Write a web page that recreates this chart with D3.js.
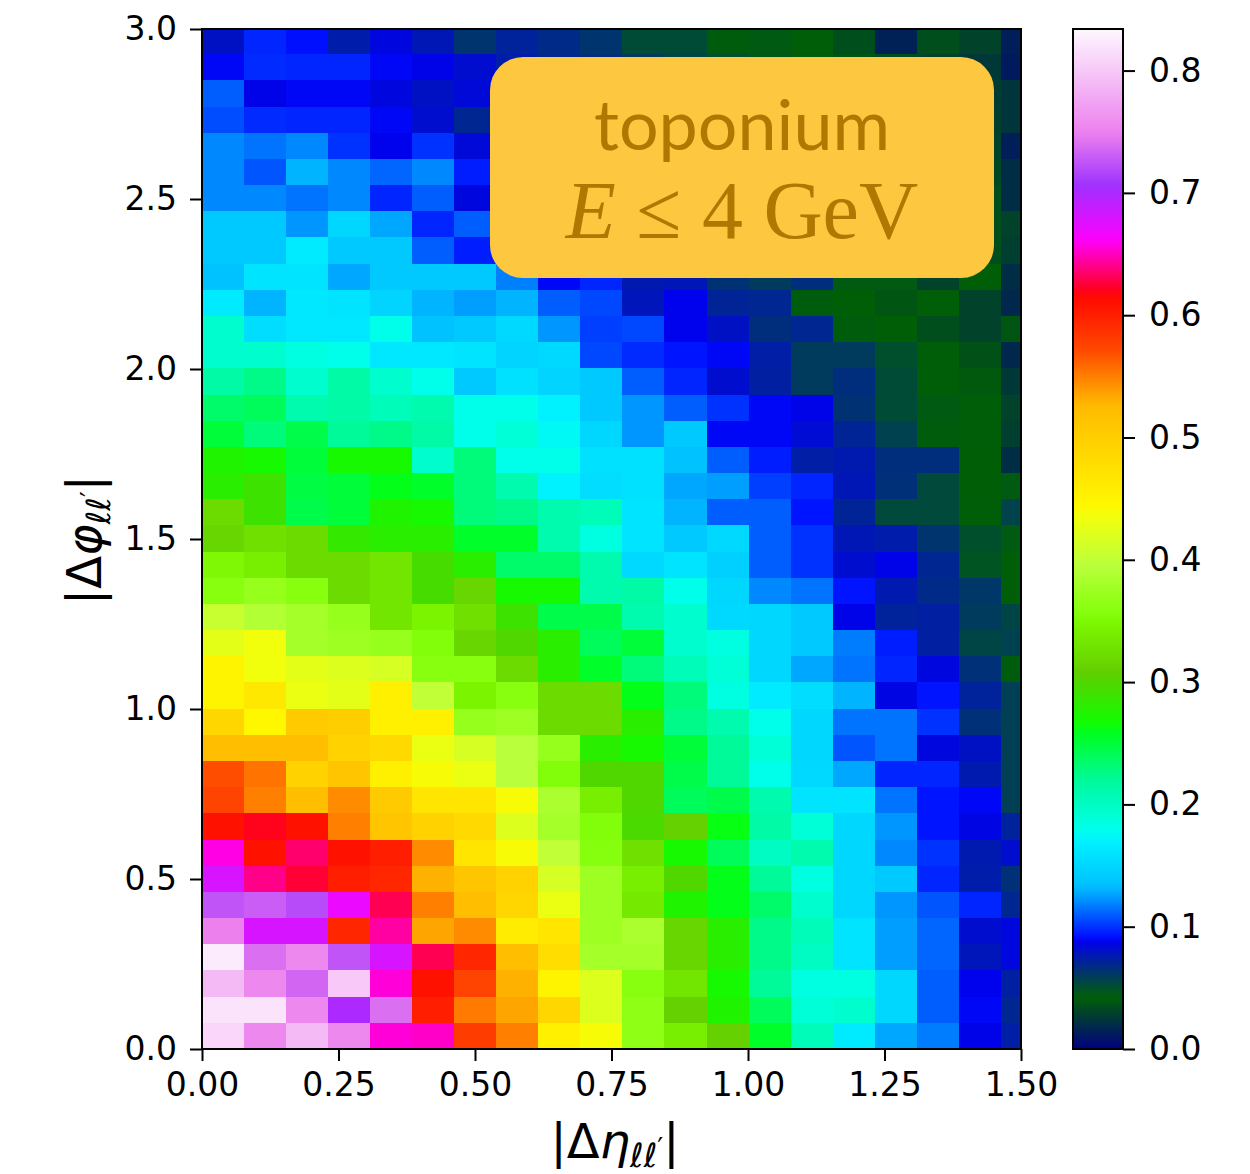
<!DOCTYPE html>
<html><head><meta charset="utf-8">
<script src="https://cdn.jsdelivr.net/npm/d3@7"></script>
<style>body{margin:0;background:#fff;} svg{display:block}</style>
</head><body>
<svg id="chart" width="1250" height="1174"></svg>
<script>
// ---------------- data ----------------
const binWidth = 0.077;           // bin width in both |Δη| and |Δφ|
const xDomain = [0, 1.5];
const yDomain = [0, 3.0];
const xTicks = [0, 0.25, 0.5, 0.75, 1.0, 1.25, 1.5];
const yTicks = [0, 0.5, 1.0, 1.5, 2.0, 2.5, 3.0];
const cbTicks = [0, 0.1, 0.2, 0.3, 0.4, 0.5, 0.6, 0.7, 0.8];
const colorMax = 0.834;
const boxLine1 = "toponium";
// rows from |Δφ| = 0 upward, 20 columns of |Δη|
const density = [
 [0.81,0.755,0.79,0.755,0.655,0.652,0.58,0.55,0.455,0.44,0.365,0.34,0.31,0.255,0.205,0.165,0.127,0.117,0.087,0.074],
 [0.82,0.82,0.755,0.70,0.74,0.60,0.552,0.535,0.49,0.42,0.365,0.31,0.275,0.24,0.19,0.195,0.15,0.11,0.09,0.07],
 [0.79,0.755,0.735,0.80,0.655,0.61,0.575,0.53,0.45,0.42,0.36,0.33,0.27,0.22,0.185,0.185,0.15,0.11,0.088,0.073],
 [0.825,0.74,0.755,0.725,0.68,0.63,0.595,0.52,0.48,0.38,0.38,0.315,0.28,0.225,0.20,0.16,0.125,0.112,0.078,0.085],
 [0.75,0.68,0.68,0.595,0.645,0.535,0.545,0.46,0.47,0.375,0.385,0.315,0.28,0.225,0.205,0.16,0.125,0.112,0.082,0.085],
 [0.725,0.73,0.72,0.67,0.63,0.55,0.52,0.49,0.43,0.375,0.335,0.275,0.26,0.235,0.195,0.15,0.123,0.108,0.097,0.07],
 [0.68,0.64,0.625,0.60,0.595,0.53,0.51,0.495,0.415,0.375,0.34,0.30,0.26,0.22,0.185,0.15,0.14,0.097,0.075,0.065],
 [0.657,0.61,0.635,0.61,0.60,0.545,0.47,0.44,0.40,0.358,0.325,0.27,0.24,0.20,0.21,0.15,0.12,0.10,0.076,0.082],
 [0.61,0.62,0.61,0.55,0.51,0.495,0.485,0.42,0.38,0.355,0.297,0.31,0.262,0.215,0.19,0.15,0.123,0.093,0.086,0.072],
 [0.575,0.55,0.52,0.545,0.505,0.47,0.47,0.44,0.385,0.34,0.30,0.24,0.245,0.21,0.16,0.16,0.115,0.093,0.09,0.058],
 [0.57,0.555,0.495,0.51,0.455,0.44,0.43,0.395,0.355,0.30,0.30,0.245,0.22,0.18,0.152,0.127,0.097,0.097,0.076,0.058],
 [0.52,0.52,0.52,0.495,0.485,0.43,0.415,0.395,0.37,0.28,0.27,0.25,0.22,0.19,0.15,0.108,0.115,0.085,0.08,0.058],
 [0.49,0.445,0.505,0.50,0.455,0.455,0.37,0.375,0.32,0.32,0.28,0.225,0.21,0.18,0.15,0.115,0.115,0.10,0.065,0.058],
 [0.45,0.465,0.43,0.425,0.455,0.40,0.345,0.36,0.32,0.32,0.26,0.23,0.185,0.165,0.155,0.13,0.086,0.093,0.072,0.058],
 [0.45,0.435,0.425,0.42,0.415,0.36,0.36,0.32,0.28,0.255,0.23,0.205,0.19,0.15,0.127,0.115,0.097,0.085,0.065,0.044],
 [0.425,0.435,0.38,0.375,0.37,0.355,0.315,0.30,0.28,0.24,0.25,0.195,0.185,0.15,0.14,0.117,0.095,0.073,0.055,0.057],
 [0.405,0.39,0.38,0.37,0.33,0.345,0.325,0.29,0.245,0.245,0.21,0.195,0.152,0.15,0.14,0.087,0.072,0.073,0.06,0.055],
 [0.36,0.37,0.36,0.32,0.33,0.295,0.315,0.27,0.27,0.21,0.215,0.18,0.15,0.12,0.115,0.093,0.076,0.068,0.062,0.043],
 [0.35,0.34,0.32,0.32,0.33,0.295,0.28,0.235,0.235,0.21,0.152,0.16,0.145,0.11,0.10,0.082,0.087,0.07,0.048,0.043],
 [0.315,0.325,0.32,0.285,0.28,0.28,0.255,0.255,0.21,0.185,0.16,0.14,0.152,0.11,0.10,0.077,0.075,0.063,0.05,0.045],
 [0.32,0.29,0.245,0.25,0.275,0.27,0.23,0.225,0.21,0.205,0.16,0.13,0.11,0.11,0.093,0.071,0.053,0.053,0.043,0.056],
 [0.28,0.29,0.247,0.25,0.26,0.255,0.23,0.21,0.17,0.155,0.158,0.127,0.125,0.103,0.097,0.077,0.065,0.053,0.042,0.045],
 [0.275,0.27,0.25,0.27,0.27,0.195,0.23,0.18,0.18,0.158,0.158,0.135,0.11,0.095,0.074,0.076,0.066,0.066,0.042,0.02],
 [0.25,0.23,0.245,0.22,0.225,0.215,0.18,0.19,0.175,0.15,0.123,0.14,0.09,0.09,0.083,0.071,0.057,0.044,0.043,0.028],
 [0.235,0.24,0.21,0.215,0.205,0.21,0.18,0.18,0.17,0.14,0.123,0.11,0.10,0.09,0.087,0.064,0.052,0.045,0.043,0.03],
 [0.215,0.225,0.195,0.215,0.195,0.18,0.14,0.158,0.148,0.14,0.11,0.097,0.082,0.073,0.06,0.066,0.052,0.043,0.04,0.025],
 [0.195,0.195,0.185,0.18,0.163,0.163,0.16,0.148,0.152,0.105,0.098,0.093,0.09,0.074,0.06,0.06,0.05,0.043,0.036,0.018],
 [0.195,0.155,0.163,0.163,0.18,0.135,0.14,0.152,0.123,0.103,0.105,0.088,0.08,0.066,0.07,0.044,0.042,0.035,0.03,0.038],
 [0.165,0.13,0.163,0.16,0.148,0.13,0.125,0.13,0.11,0.105,0.078,0.088,0.071,0.07,0.044,0.042,0.038,0.043,0.03,0.018],
 [0.135,0.16,0.16,0.127,0.14,0.14,0.14,0.118,0.09,0.097,0.076,0.077,0.064,0.06,0.066,0.045,0.045,0.03,0.042,0.02],
 [0.14,0.14,0.165,0.14,0.14,0.11,0.095,0.095,0.085,0.08,0.075,0.07,0.065,0.06,0.055,0.05,0.045,0.04,0.035,0.028],
 [0.14,0.14,0.123,0.15,0.127,0.097,0.11,0.09,0.082,0.078,0.073,0.068,0.062,0.058,0.052,0.048,0.045,0.04,0.035,0.03],
 [0.12,0.12,0.115,0.12,0.097,0.11,0.085,0.09,0.085,0.078,0.07,0.065,0.06,0.055,0.05,0.046,0.043,0.04,0.035,0.02],
 [0.12,0.108,0.13,0.12,0.112,0.12,0.095,0.09,0.082,0.076,0.07,0.064,0.058,0.054,0.05,0.045,0.042,0.038,0.032,0.02],
 [0.12,0.115,0.12,0.10,0.088,0.10,0.084,0.085,0.08,0.074,0.068,0.062,0.056,0.052,0.048,0.044,0.04,0.036,0.03,0.014],
 [0.106,0.098,0.097,0.097,0.09,0.082,0.07,0.08,0.075,0.07,0.065,0.06,0.055,0.05,0.046,0.042,0.038,0.034,0.028,0.024],
 [0.11,0.087,0.09,0.09,0.085,0.08,0.084,0.078,0.072,0.068,0.063,0.058,0.053,0.048,0.044,0.04,0.036,0.032,0.027,0.024],
 [0.09,0.098,0.097,0.097,0.09,0.087,0.082,0.075,0.07,0.066,0.06,0.055,0.05,0.046,0.042,0.038,0.034,0.03,0.025,0.012],
 [0.08,0.097,0.092,0.075,0.085,0.077,0.063,0.072,0.068,0.063,0.052,0.052,0.044,0.045,0.043,0.035,0.015,0.035,0.03,0.014]
];

// ---------------- colormap (gist_ncar) ----------------
const ncar = {
  r: [[0,0],[0.3098,0],[0.3725,0.3993],[0.4235,0.5003],[0.5333,1],[0.7922,1],[0.8471,0.6218],[0.8980,0.9235],[1,0.9961]],
  g: [[0,0],[0.0510,0.3722],[0.1059,0],[0.1569,0.7202],[0.1608,0.7537],[0.1647,0.7752],[0.2157,1],[0.2588,0.9804],[0.2706,0.9804],[0.3176,1],[0.3686,0.8081],[0.4275,1],[0.5216,1],[0.6314,0.7292],[0.6863,0.2796],[0.7451,0],[0.7922,0],[0.8431,0.1753],[0.8980,0.5],[1,0.9725]],
  b: [[0,0.5020],[0.0510,0.0222],[0.1098,1],[0.2039,1],[0.2627,0.6145],[0.3216,0],[0.4157,0],[0.4745,0.2342],[0.5333,0],[0.5804,0],[0.6314,0],[0.6902,0],[0.7373,0],[0.7922,0.9725],[0.8,1],[0.8431,1],[0.8980,0.9341],[1,0.9961]]
};
const chan = k => d3.scaleLinear().domain(ncar[k].map(d=>d[0])).range(ncar[k].map(d=>d[1])).clamp(true);
const cR = chan('r'), cG = chan('g'), cB = chan('b');
const norm = d3.scaleLinear().domain([0, colorMax]).range([0,1]).clamp(true);
function color(v){
  const t = norm(v);
  return d3.rgb(Math.round(cR(t)*255), Math.round(cG(t)*255), Math.round(cB(t)*255)).formatHex();
}

// ---------------- layout ----------------
const svg = d3.select("#chart");
const plot = {x0: 202, x1: 1021, y0: 29, y1: 1049};
const x = d3.scaleLinear().domain(xDomain).range([plot.x0, plot.x1]);
const y = d3.scaleLinear().domain(yDomain).range([plot.y1, plot.y0]);
const FONT = "'DejaVu Sans', sans-serif";

// cells
const cells = [];
density.forEach((row, r) => row.forEach((v, c) => {
  const xa = c*binWidth, xb = Math.min((c+1)*binWidth, xDomain[1]);
  const ya = r*binWidth, yb = Math.min((r+1)*binWidth, yDomain[1]);
  if (xa < xDomain[1] && ya < yDomain[1]) cells.push({xa, xb, ya, yb, v});
}));
svg.append("g").attr("shape-rendering","crispEdges")
  .selectAll("rect").data(cells).join("rect")
  .attr("x", d => x(d.xa)).attr("width", d => x(d.xb) - x(d.xa))
  .attr("y", d => y(d.yb)).attr("height", d => y(d.ya) - y(d.yb))
  .attr("fill", d => color(d.v));

// frame
svg.append("rect").attr("x", plot.x0).attr("y", plot.y0)
  .attr("width", plot.x1-plot.x0).attr("height", plot.y1-plot.y0)
  .attr("fill","none").attr("stroke","#000").attr("stroke-width",2);

// axes
const xAxis = d3.axisBottom(x).tickValues(xTicks).tickFormat(d3.format(".2f")).tickSize(12).tickPadding(12).tickSizeOuter(0);
const gx = svg.append("g").attr("transform", `translate(0,${plot.y1})`).call(xAxis);
const yAxis = d3.axisLeft(y).tickValues(yTicks).tickFormat(d3.format(".1f")).tickSize(12).tickPadding(13).tickSizeOuter(0);
const gy = svg.append("g").attr("transform", `translate(${plot.x0},0)`).call(yAxis);
[gx, gy].forEach(g => {
  g.select(".domain").remove();
  g.selectAll(".tick line").attr("stroke","#000").attr("stroke-width",2);
  g.selectAll(".tick text").attr("font-family", FONT).attr("font-size", 33).attr("fill","#000");
});

// axis labels
function mathLabel(sel, sym){
  sel.append("tspan").text("|Δ");
  sel.append("tspan").attr("font-style","italic").text(sym);
  sel.append("tspan").attr("font-style","italic").attr("font-size", 33).attr("dy", 9).text("ℓℓ");
  sel.append("tspan").attr("font-size", 26).attr("dy", -10).text("\u2032");
  sel.append("tspan").attr("dy", 1).text("|");
}
const xl = svg.append("text").attr("x", 615).attr("y", 1158).attr("text-anchor","middle")
  .attr("font-family", FONT).attr("font-size", 48).attr("fill","#000");
mathLabel(xl, "η");
const yl = svg.append("text").attr("transform","translate(101,540) rotate(-90)").attr("text-anchor","middle")
  .attr("font-family", FONT).attr("font-size", 48).attr("fill","#000");
mathLabel(yl, "φ");

// colorbar
const cb = {x0: 1073, x1: 1123, y0: 29, y1: 1049};
const cy = d3.scaleLinear().domain([0, colorMax]).range([cb.y1, cb.y0]);
const defs = svg.append("defs");
const grad = defs.append("linearGradient").attr("id","cbgrad").attr("x1",0).attr("y1",1).attr("x2",0).attr("y2",0);
d3.range(0, 1.0001, 0.005).forEach(t => {
  grad.append("stop").attr("offset", t).attr("stop-color", color(t*colorMax));
});
svg.append("rect").attr("x", cb.x0).attr("y", cb.y0).attr("width", cb.x1-cb.x0).attr("height", cb.y1-cb.y0)
  .attr("fill","url(#cbgrad)").attr("stroke","#000").attr("stroke-width",2);
const cAxis = d3.axisRight(cy).tickValues(cbTicks).tickFormat(d3.format(".1f")).tickSize(12).tickPadding(14).tickSizeOuter(0);
const gc = svg.append("g").attr("transform", `translate(${cb.x1},0)`).call(cAxis);
gc.select(".domain").remove();
gc.selectAll(".tick line").attr("stroke","#000").attr("stroke-width",2);
gc.selectAll(".tick text").attr("font-family", FONT).attr("font-size", 33).attr("fill","#000");

// label box
const box = svg.append("g");
box.append("rect").attr("x", 490).attr("y", 57).attr("width", 504).attr("height", 221).attr("rx", 33)
  .attr("fill", "#FDC840");
box.append("text").attr("x", 742).attr("y", 150).attr("text-anchor","middle")
  .attr("font-family","Lato, 'Open Sans', sans-serif").attr("font-size", 70).attr("fill","#B07800")
  .text(boxLine1);
const t2 = box.append("text").attr("x", 742).attr("y", 238).attr("text-anchor","middle")
  .attr("font-family","'Liberation Serif', 'DejaVu Serif', serif").attr("font-size", 82).attr("fill","#B07800")
  .attr("xml:space","preserve");
t2.append("tspan").attr("font-style","italic").text("E");
t2.append("tspan").text(" ≤ 4 GeV");
</script>
</body></html>
